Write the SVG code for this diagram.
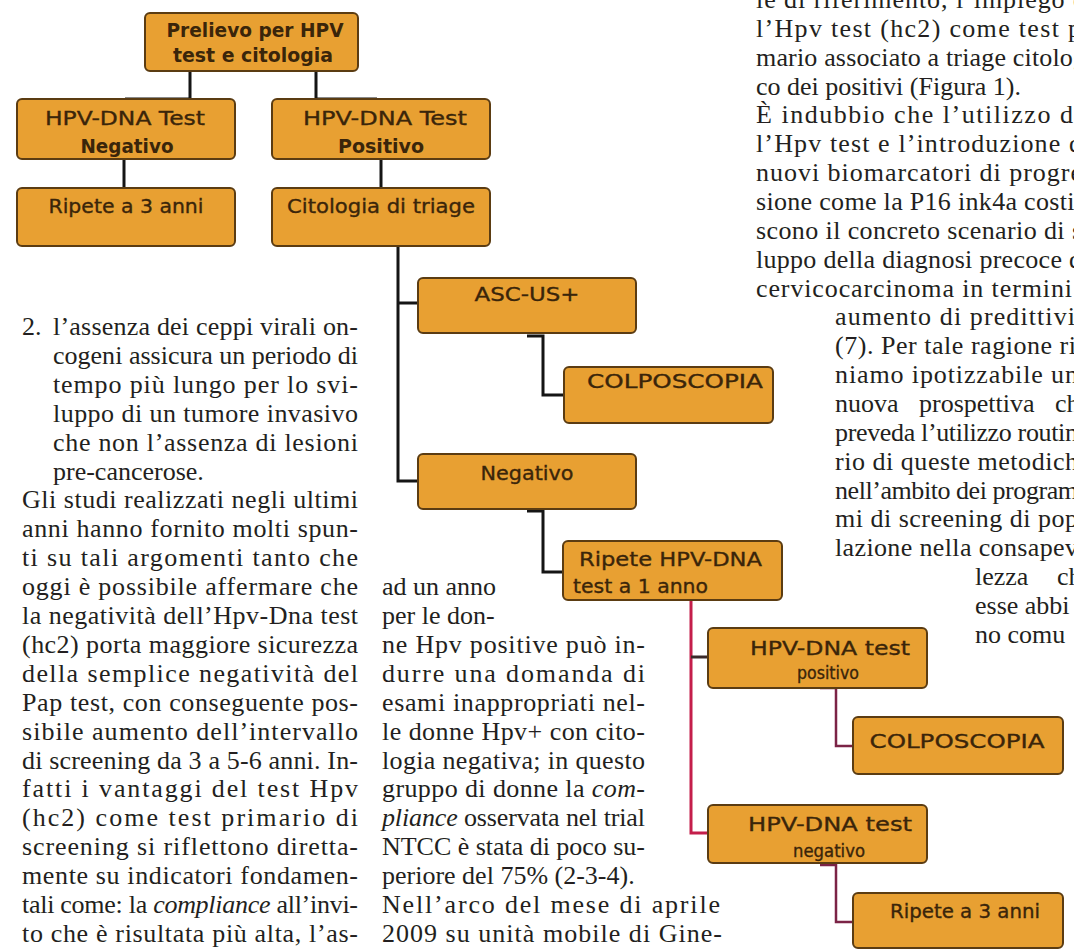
<svg xmlns="http://www.w3.org/2000/svg" width="1074" height="952" viewBox="0 0 1074 952">
<style>
.bg{fill:#ffffff}
.bx{fill:#E8A032;stroke:#5b3c12;stroke-width:2}
.bt{font-family:"DejaVu Sans","Liberation Sans",sans-serif;font-size:20px;fill:#3a250a;stroke:#3a250a;stroke-width:0.35;text-anchor:middle}
.bts{font-size:17px}
.bold{font-weight:bold;stroke-width:0}
.tl{font-family:"DejaVu Sans","Liberation Sans",sans-serif;font-size:20px;fill:#3a250a;stroke:#3a250a;stroke-width:0.35}
.k{fill:none;stroke:#151515;stroke-width:3}
.r{fill:none;stroke:#c41e4a;stroke-width:3}
.m{fill:none;stroke:#7b2346;stroke-width:2.5}
.s{stroke:#3a2a2a;stroke-width:3}
.t{font-family:"Liberation Serif","Times New Roman",serif;font-size:26px;fill:#231f20}
.i{font-style:italic}
</style>
<rect class="bg" x="0" y="0" width="1074" height="952"/>

<g id="connectors">
  <path class="k" d="M190 71 V99 H125"/>
  <path class="k" d="M316 71 V99 H377"/>
  <path class="k" d="M124 159 V188"/>
  <path class="k" d="M381 159 V188"/>
  <path class="k" d="M398 246 V481 H418 M398 303 H418"/>
  <path class="k" d="M527 336 H543 V395 H564"/>
  <path class="k" d="M527 511 H543 V572 H563"/>
  <path class="r" d="M691 600 V833 H708"/>
  <path class="s" d="M691 657 H708"/>
  <path class="m" d="M820 688 H836 V746 H853"/>
  <path class="m" d="M820 865 H836 V922 H853"/>
</g>

<g id="n-prelievo">
  <rect class="bx" x="145" y="13" width="213" height="58" rx="5"/>
  <text class="bt bold" x="255" y="37" textLength="177" lengthAdjust="spacingAndGlyphs">Prelievo per HPV</text>
  <text class="bt bold" x="253" y="62" textLength="160" lengthAdjust="spacingAndGlyphs">test e citologia</text>
</g>
<g id="n-hpv-neg">
  <rect class="bx" x="17" y="99" width="218" height="60" rx="5"/>
  <text class="bt" x="125" y="125" textLength="160" lengthAdjust="spacingAndGlyphs">HPV-DNA Test</text>
  <text class="bt bold" x="127" y="153" textLength="93" lengthAdjust="spacingAndGlyphs">Negativo</text>
</g>
<g id="n-hpv-pos">
  <rect class="bx" x="272" y="99" width="218" height="60" rx="5"/>
  <text class="bt" x="385" y="125" textLength="164" lengthAdjust="spacingAndGlyphs">HPV-DNA Test</text>
  <text class="bt bold" x="381" y="153" textLength="86" lengthAdjust="spacingAndGlyphs">Positivo</text>
</g>
<g id="n-ripete3">
  <rect class="bx" x="17" y="188" width="218" height="58" rx="5"/>
  <text class="bt" x="126" y="213" textLength="155" lengthAdjust="spacingAndGlyphs">Ripete a 3 anni</text>
</g>
<g id="n-citologia">
  <rect class="bx" x="272" y="188" width="218" height="58" rx="5"/>
  <text class="bt" x="381" y="213" textLength="188" lengthAdjust="spacingAndGlyphs">Citologia di triage</text>
</g>
<g id="n-ascus">
  <rect class="bx" x="418" y="278" width="218" height="55" rx="5"/>
  <text class="bt" x="527" y="301" textLength="105" lengthAdjust="spacingAndGlyphs">ASC-US+</text>
</g>
<g id="n-colpo1">
  <rect class="bx" x="564" y="367" width="209" height="56" rx="5"/>
  <text class="bt" x="675" y="388" textLength="176" lengthAdjust="spacingAndGlyphs">COLPOSCOPIA</text>
</g>
<g id="n-negativo">
  <rect class="bx" x="418" y="454" width="218" height="55" rx="5"/>
  <text class="bt" x="527" y="480" textLength="93" lengthAdjust="spacingAndGlyphs">Negativo</text>
</g>
<g id="n-ripete1">
  <rect class="bx" x="563" y="541" width="219" height="59" rx="5"/>
  <text class="tl" x="579" y="566" textLength="183" lengthAdjust="spacingAndGlyphs">Ripete HPV-DNA</text>
  <text class="tl" x="573" y="593" textLength="135" lengthAdjust="spacingAndGlyphs">test a 1 anno</text>
</g>
<g id="n-test-pos">
  <rect class="bx" x="708" y="628" width="219" height="60" rx="5"/>
  <text class="bt" x="830" y="655" textLength="160" lengthAdjust="spacingAndGlyphs">HPV-DNA test</text>
  <text class="bt bts" x="828" y="679" textLength="62" lengthAdjust="spacingAndGlyphs">positivo</text>
</g>
<g id="n-colpo2">
  <rect class="bx" x="853" y="717" width="210" height="57" rx="5"/>
  <text class="bt" x="957" y="748" textLength="175" lengthAdjust="spacingAndGlyphs">COLPOSCOPIA</text>
</g>
<g id="n-test-neg">
  <rect class="bx" x="708" y="805" width="219" height="58" rx="5"/>
  <text class="bt" x="830" y="831" textLength="164" lengthAdjust="spacingAndGlyphs">HPV-DNA test</text>
  <text class="bt bts" x="829" y="857" textLength="72" lengthAdjust="spacingAndGlyphs">negativo</text>
</g>
<g id="n-ripete3b">
  <rect class="bx" x="853" y="893" width="210" height="55" rx="5"/>
  <text class="bt" x="965" y="918" textLength="150" lengthAdjust="spacingAndGlyphs">Ripete a 3 anni</text>
</g>

<g id="text-left" class="t">
  <text x="22" y="335">2.</text>
  <text x="53" y="335" textLength="305" lengthAdjust="spacing">l’assenza dei ceppi virali on-</text>
  <text x="53" y="363.9" textLength="305" lengthAdjust="spacing">cogeni assicura un periodo di</text>
  <text x="53" y="392.8" textLength="305" lengthAdjust="spacing">tempo più lungo per lo svi-</text>
  <text x="53" y="421.7" textLength="305" lengthAdjust="spacing">luppo di un tumore invasivo</text>
  <text x="53" y="450.6" textLength="305" lengthAdjust="spacing">che non l’assenza di lesioni</text>
  <text x="53" y="479.5">pre-cancerose.</text>
  <text x="22" y="508.4" textLength="336" lengthAdjust="spacing">Gli studi realizzati negli ultimi</text>
  <text x="22" y="537.3" textLength="336" lengthAdjust="spacing">anni hanno fornito molti spun-</text>
  <text x="22" y="566.2" textLength="336" lengthAdjust="spacing">ti su tali argomenti tanto che</text>
  <text x="22" y="595.1" textLength="336" lengthAdjust="spacing">oggi è possibile affermare che</text>
  <text x="22" y="624" textLength="336" lengthAdjust="spacing">la negatività dell’Hpv-Dna test</text>
  <text x="22" y="652.9" textLength="336" lengthAdjust="spacing">(hc2) porta maggiore sicurezza</text>
  <text x="22" y="681.8" textLength="336" lengthAdjust="spacing">della semplice negatività del</text>
  <text x="22" y="710.7" textLength="336" lengthAdjust="spacing">Pap test, con conseguente pos-</text>
  <text x="22" y="739.6" textLength="336" lengthAdjust="spacing">sibile aumento dell’intervallo</text>
  <text x="22" y="768.5" textLength="336" lengthAdjust="spacing">di screening da 3 a 5-6 anni. In-</text>
  <text x="22" y="797.4" textLength="336" lengthAdjust="spacing">fatti i vantaggi del test Hpv</text>
  <text x="22" y="826.3" textLength="336" lengthAdjust="spacing">(hc2) come test primario di</text>
  <text x="22" y="855.2" textLength="336" lengthAdjust="spacing">screening si riflettono diretta-</text>
  <text x="22" y="884.1" textLength="336" lengthAdjust="spacing">mente su indicatori fondamen-</text>
  <text x="22" y="913" textLength="336" lengthAdjust="spacing">tali come: la <tspan class="i">compliance</tspan> all’invi-</text>
  <text x="22" y="941.9" textLength="336" lengthAdjust="spacing">to che è risultata più alta, l’as-</text>
</g>

<g id="text-middle" class="t">
  <text x="382" y="595.1">ad un anno</text>
  <text x="382" y="624">per le don-</text>
  <text x="382" y="652.9" textLength="263" lengthAdjust="spacing">ne Hpv positive può in-</text>
  <text x="382" y="681.8" textLength="263" lengthAdjust="spacing">durre una domanda di</text>
  <text x="382" y="710.7" textLength="263" lengthAdjust="spacing">esami inappropriati nel-</text>
  <text x="382" y="739.6" textLength="263" lengthAdjust="spacing">le donne Hpv+ con cito-</text>
  <text x="382" y="768.5" textLength="263" lengthAdjust="spacing">logia negativa; in questo</text>
  <text x="382" y="797.4" textLength="263" lengthAdjust="spacing">gruppo di donne la <tspan class="i">com-</tspan></text>
  <text x="382" y="826.3" textLength="263" lengthAdjust="spacing"><tspan class="i">pliance</tspan> osservata nel trial</text>
  <text x="382" y="855.2" textLength="263" lengthAdjust="spacing">NTCC è stata di poco su-</text>
  <text x="382" y="884.1">periore del 75% (2-3-4).</text>
  <text x="382" y="913" textLength="338" lengthAdjust="spacing">Nell’arco del mese di aprile</text>
  <text x="382" y="941.9" textLength="340" lengthAdjust="spacing">2009 su unità mobile di Gine-</text>
</g>

<g id="text-right" class="t">
  <text x="756" y="8" textLength="330" lengthAdjust="spacing">le di riferimento, l’impiego d</text>
  <text x="756" y="36.9" textLength="325" lengthAdjust="spacing">l’Hpv test (hc2) come test p</text>
  <text x="756" y="65.7" textLength="330" lengthAdjust="spacing">mario associato a triage citolog</text>
  <text x="756" y="94.6">co dei positivi (Figura 1).</text>
  <text x="756" y="123.4" textLength="330" lengthAdjust="spacing">È indubbio che l’utilizzo de</text>
  <text x="756" y="152.3" textLength="326" lengthAdjust="spacing">l’Hpv test e l’introduzione d</text>
  <text x="756" y="181.1" textLength="326" lengthAdjust="spacing">nuovi biomarcatori di progre</text>
  <text x="756" y="210" textLength="326" lengthAdjust="spacing">sione come la P16 ink4a costit</text>
  <text x="756" y="238.8" textLength="326" lengthAdjust="spacing">scono il concreto scenario di s</text>
  <text x="756" y="267.7" textLength="326" lengthAdjust="spacing">luppo della diagnosi precoce d</text>
  <text x="756" y="296.5" textLength="316" lengthAdjust="spacing">cervicocarcinoma in termini</text>
  <text x="835" y="325.4" textLength="240" lengthAdjust="spacing">aumento di predittivi</text>
  <text x="835" y="354.2" textLength="241" lengthAdjust="spacing">(7). Per tale ragione ri</text>
  <text x="835" y="383.1" textLength="243" lengthAdjust="spacing">niamo ipotizzabile un</text>
  <text x="835" y="411.9" word-spacing="14">nuova prospettiva ch</text>
  <text x="835" y="440.8" textLength="243" lengthAdjust="spacing">preveda l’utilizzo routin</text>
  <text x="835" y="469.6" textLength="243" lengthAdjust="spacing">rio di queste metodich</text>
  <text x="835" y="498.5" textLength="243" lengthAdjust="spacing">nell’ambito dei program</text>
  <text x="835" y="527.3" textLength="243" lengthAdjust="spacing">mi di screening di pop</text>
  <text x="835" y="556.2" textLength="243" lengthAdjust="spacing">lazione nella consapev</text>
  <text x="975" y="585"><tspan x="975">lezza</tspan><tspan x="1057">ch</tspan></text>
  <text x="975" y="613.9">esse abbi</text>
  <text x="975" y="642.7">no comu</text>
</g>
</svg>
